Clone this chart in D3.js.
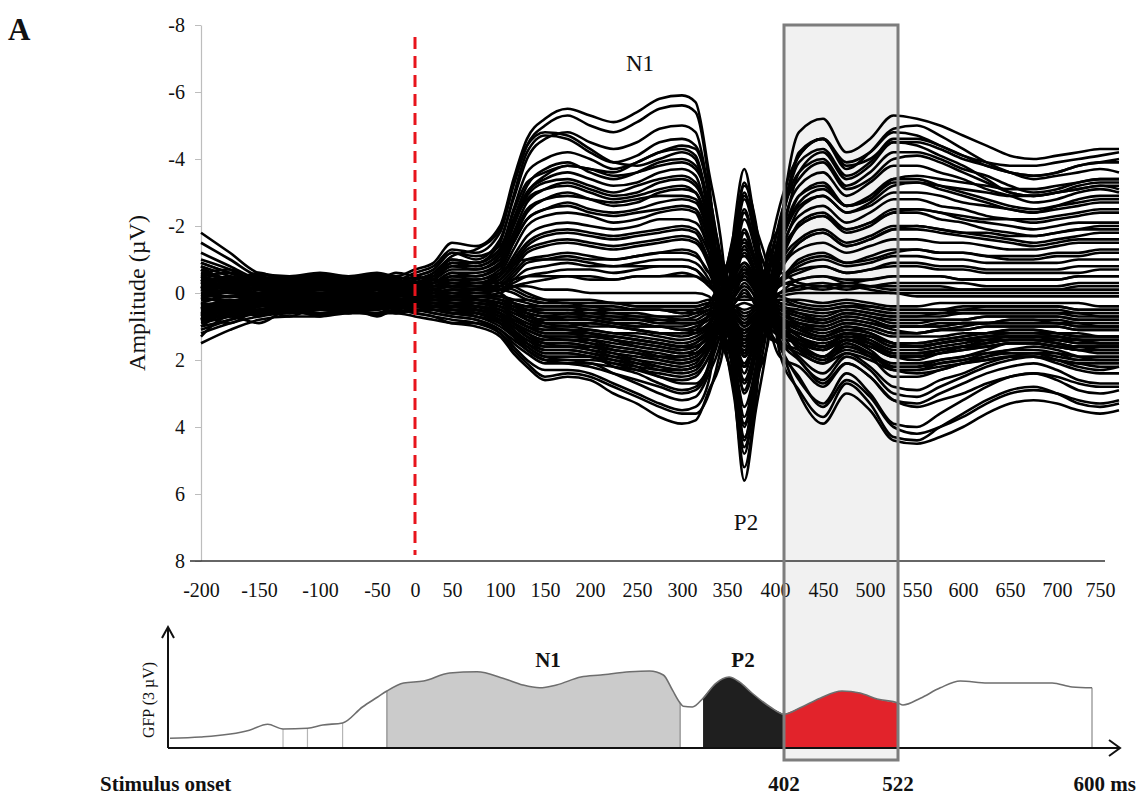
<!DOCTYPE html>
<html>
<head>
<meta charset="utf-8">
<script src="https://cdn.jsdelivr.net/npm/d3@7"></script>
<style>
  body { margin: 0; background: #fff; }
  svg { display: block; }
  text { font-family: "Liberation Serif", "Times New Roman", serif; fill: #111; }
</style>
</head>
<body>
<svg id="chart" width="1146" height="799"></svg>
<script>
// ---- sample times (ms) shared by every channel trace ----
const sampleTimes = [-200,-175,-150,-125,-100,-75,-50,-25,0,
  25,50,75,100,115,130,150,175,200,225,250,275,300,315,330,
  345,358,368,380,392,405,
  425,450,475,500,525,550,575,600,625,650,675,700,725,750,770];

// channels with a negative N1 (upper traces), amplitude in µV
const negativeN1Channels = [
  [-1.8,-1.2,-0.6,-0.5,-0.6,-0.5,-0.6,-0.5,-0.7, -0.9,-1.5,-1.4,-2.0,-3.4,-4.6,-5.2,-5.5,-5.3,-5.1,-5.4,-5.8,-5.9,-5.7,-3.6, -1.2,3.0,5.6,3.5,1.5,-1.8, -4.8,-5.2,-4.2,-4.6,-5.3,-5.2,-5.0,-4.7,-4.4,-4.1,-4.0,-4.1,-4.2,-4.3,-4.3],
  [-1.5,-1.0,-0.5,-0.4,-0.5,-0.4,-0.5,-0.4,-0.6, -0.8,-1.3,-1.2,-1.8,-3.2,-4.4,-5.0,-5.3,-5.0,-4.8,-5.1,-5.5,-5.6,-5.4,-3.3, 0.9,3.2,5.2,3.2,-0.5,-2.1, -4.1,-4.6,-3.7,-4.2,-4.9,-5.0,-4.7,-4.3,-3.9,-3.6,-3.4,-3.5,-3.6,-3.7,-3.6],
  [-1.2,-0.8,-0.4,-0.3,-0.4,-0.3,-0.4,-0.3,-0.5, -0.7,-1.2,-1.0,-1.6,-2.8,-4.0,-4.6,-4.8,-4.5,-4.3,-4.5,-4.9,-5.0,-4.8,-3.0, -0.5,2.9,4.8,2.9,1.0,-1.8, -3.6,-4.0,-3.2,-3.6,-4.2,-4.2,-4.0,-3.7,-3.5,-3.2,-3.0,-3.1,-3.3,-3.4,-3.4],
  [-1.0,-0.7,-0.3,-0.3,-0.4,-0.3,-0.3,-0.3,-0.4, -0.6,-1.0,-0.9,-1.5,-2.9,-4.2,-4.7,-4.6,-4.2,-3.9,-4.1,-4.5,-4.6,-4.4,-2.8, 1.4,2.6,4.3,2.6,-1.2,-2.0, -4.2,-4.6,-3.8,-4.0,-4.5,-4.4,-4.1,-3.8,-3.4,-3.0,-2.9,-3.0,-3.2,-3.3,-3.3],
  [-0.9,-0.6,-0.4,-0.2,-0.3,-0.3,-0.4,-0.2,-0.4, -0.5,-0.9,-0.9,-1.3,-2.5,-3.6,-4.0,-4.2,-4.0,-3.7,-3.9,-4.2,-4.3,-4.1,-2.6, -0.8,2.4,4.0,2.4,0.8,-1.6, -3.2,-3.6,-2.9,-3.3,-3.8,-3.8,-3.6,-3.4,-3.1,-2.9,-2.7,-2.8,-3.0,-3.1,-3.0],
  [-0.8,-0.5,-0.2,-0.2,-0.3,-0.2,-0.3,-0.2,-0.3, -0.5,-0.8,-0.8,-1.2,-2.2,-3.2,-3.7,-3.9,-3.6,-3.4,-3.6,-3.9,-4.0,-3.8,-2.4, 1.0,2.2,3.7,2.2,-0.4,-1.4, -2.9,-3.3,-2.6,-2.9,-3.4,-3.4,-3.2,-3.0,-2.8,-2.6,-2.5,-2.6,-2.7,-2.8,-2.8],
  [-0.7,-0.4,-0.3,-0.1,-0.2,-0.2,-0.2,-0.2,-0.3, -0.4,-0.7,-0.7,-1.0,-2.0,-3.0,-3.4,-3.6,-3.4,-3.2,-3.3,-3.6,-3.7,-3.5,-2.1, 0.0,2.4,4.4,2.6,1.6,-1.0, -2.0,-2.3,-1.8,-2.0,-2.4,-2.4,-2.2,-2.1,-1.9,-1.8,-1.7,-1.8,-1.9,-2.0,-2.0],
  [-0.6,-0.4,-0.2,-0.2,-0.2,-0.1,-0.2,-0.1,-0.2, -0.3,-0.6,-0.6,-0.9,-1.8,-2.7,-3.1,-3.3,-3.1,-2.9,-3.0,-3.3,-3.4,-3.2,-2.0, 1.6,1.8,3.0,1.8,-1.0,-1.6, -3.6,-4.2,-3.4,-3.8,-4.5,-4.5,-4.3,-4.0,-3.8,-3.6,-3.5,-3.6,-3.8,-3.9,-3.9],
  [-0.5,-0.3,-0.1,-0.1,-0.2,-0.1,-0.1,-0.1,-0.2, -0.3,-0.5,-0.5,-0.8,-1.6,-2.4,-2.8,-3.0,-2.8,-2.6,-2.7,-3.0,-3.1,-3.0,-1.8, -0.6,1.8,2.9,1.8,0.6,-1.1, -2.3,-2.6,-2.1,-2.4,-2.8,-2.8,-2.6,-2.5,-2.3,-2.2,-2.1,-2.2,-2.3,-2.4,-2.4],
  [-0.4,-0.2,-0.1,0.0,-0.1,-0.1,-0.1,0.0,-0.1, -0.2,-0.4,-0.4,-0.7,-1.5,-2.2,-2.5,-2.7,-2.5,-2.4,-2.5,-2.7,-2.8,-2.7,-1.6, 0.8,1.0,1.8,1.0,-0.8,-1.0, -2.1,-2.4,-1.9,-2.1,-2.5,-2.5,-2.4,-2.2,-2.1,-2.0,-1.9,-2.0,-2.1,-2.1,-2.1],
  [-0.3,-0.2,0.0,0.0,-0.1,0.0,-0.1,0.0,-0.1, -0.2,-0.3,-0.3,-0.6,-1.3,-2.0,-2.3,-2.4,-2.3,-2.1,-2.2,-2.4,-2.5,-2.4,-1.4, -1.0,1.3,2.4,1.4,1.2,-0.8, -1.6,-1.9,-1.5,-1.7,-2.0,-2.0,-1.9,-1.8,-1.7,-1.6,-1.5,-1.6,-1.7,-1.8,-1.8],
  [-0.2,-0.1,0.1,0.0,0.0,0.0,0.0,0.0,-0.1, -0.1,-0.2,-0.2,-0.5,-1.1,-1.7,-2.0,-2.1,-2.0,-1.9,-2.0,-2.2,-2.2,-2.1,-1.2, 1.2,1.1,1.9,1.1,-0.6,-1.2, -2.5,-2.9,-2.4,-2.7,-3.2,-3.3,-3.2,-3.1,-3.0,-2.9,-2.9,-3.0,-3.1,-3.2,-3.2],
  [-0.1,0.0,0.1,0.1,0.0,0.1,0.0,0.1,0.0, -0.1,-0.2,-0.2,-0.4,-0.9,-1.4,-1.7,-1.8,-1.7,-1.6,-1.7,-1.8,-1.9,-1.8,-1.0, -0.3,1.1,1.8,1.1,0.9,-0.6, -1.3,-1.5,-1.2,-1.4,-1.6,-1.6,-1.5,-1.5,-1.4,-1.3,-1.3,-1.4,-1.5,-1.5,-1.5],
  [0.0,0.0,0.2,0.1,0.1,0.1,0.1,0.1,0.0, 0.0,-0.1,-0.1,-0.3,-0.7,-1.2,-1.4,-1.5,-1.4,-1.3,-1.4,-1.5,-1.6,-1.5,-0.8, 0.7,1.0,1.6,1.0,-0.3,-0.4, -1.0,-1.2,-0.9,-1.1,-1.3,-1.3,-1.2,-1.2,-1.1,-1.0,-1.0,-1.1,-1.1,-1.2,-1.2],
  [0.1,0.1,0.2,0.2,0.1,0.2,0.1,0.2,0.1, 0.0,-0.1,0.0,-0.2,-0.6,-1.0,-1.1,-1.2,-1.1,-1.0,-1.1,-1.2,-1.3,-1.2,-0.6, -0.5,0.9,1.4,0.9,0.4,-0.7, -1.5,-1.8,-1.4,-1.6,-1.9,-2.0,-1.9,-1.8,-1.8,-1.7,-1.7,-1.8,-1.9,-1.9,-1.9],
  [0.2,0.2,0.3,0.2,0.2,0.2,0.2,0.2,0.1, 0.1,0.0,0.0,-0.1,-0.4,-0.7,-0.8,-0.9,-0.8,-0.8,-0.9,-1.0,-1.0,-0.9,-0.4, 0.5,0.8,1.2,0.8,0.6,-0.3, -0.7,-0.8,-0.6,-0.7,-0.9,-0.9,-0.8,-0.8,-0.7,-0.7,-0.7,-0.7,-0.8,-0.8,-0.8],
  [-0.3,-0.5,-0.2,-0.4,-0.1,-0.4,-0.2,-0.5,-0.3, -0.6,-1.1,-1.3,-1.9,-3.3,-4.4,-4.8,-4.7,-4.3,-3.9,-3.8,-4.0,-4.2,-4.0,-2.2, 0.8,2.5,3.9,2.4,0.2,-1.9, -3.9,-4.3,-3.5,-3.9,-4.6,-4.6,-4.4,-4.1,-3.8,-3.6,-3.5,-3.6,-3.8,-3.9,-4.0],
  [-0.8,-0.4,-0.6,-0.3,-0.5,-0.2,-0.5,-0.3,-0.5, -0.7,-1.2,-1.1,-1.4,-2.2,-3.0,-3.5,-3.8,-3.7,-3.6,-3.9,-4.2,-4.4,-4.3,-3.0, -0.4,2.0,3.4,2.2,0.2,-1.4, -2.9,-3.2,-2.6,-2.8,-3.3,-3.3,-3.1,-2.9,-2.7,-2.5,-2.4,-2.6,-2.8,-2.9,-2.9],
  [-0.6,-0.7,-0.3,-0.4,-0.2,-0.3,-0.1,-0.4,-0.3, -0.5,-1.0,-0.9,-1.3,-2.4,-3.3,-3.6,-3.8,-3.7,-3.5,-3.6,-3.8,-3.9,-3.7,-2.5, 1.2,2.9,4.6,2.9,-0.2,-2.2, -3.4,-3.9,-3.1,-3.4,-4.0,-4.1,-3.9,-3.6,-3.3,-3.0,-2.9,-3.0,-3.1,-3.2,-3.1],
  [-0.4,-0.2,-0.4,-0.1,-0.3,0.0,-0.2,-0.1,-0.2, -0.4,-0.8,-0.7,-1.1,-2.0,-2.9,-3.3,-3.4,-3.2,-3.0,-3.2,-3.4,-3.5,-3.3,-2.2, -0.3,1.6,2.6,1.5,-0.5,-1.5, -2.6,-2.9,-2.4,-2.6,-3.0,-3.0,-2.9,-2.7,-2.6,-2.5,-2.4,-2.5,-2.6,-2.7,-2.7],
  [-0.3,-0.4,-0.1,-0.2,-0.1,-0.2,0.0,-0.2,-0.2, -0.4,-0.9,-0.8,-1.2,-2.1,-2.8,-3.1,-3.2,-3.0,-2.8,-2.9,-3.1,-3.2,-3.0,-1.9, 0.9,1.5,2.2,1.2,-0.9,-2.6, -4.1,-4.6,-3.9,-4.2,-4.8,-4.7,-4.4,-4.1,-3.9,-3.8,-3.8,-3.9,-4.0,-4.1,-4.2],
  [-0.2,0.0,-0.2,0.1,-0.1,0.1,-0.1,0.1,-0.1, -0.3,-0.6,-0.5,-0.9,-1.7,-2.5,-2.8,-2.9,-2.8,-2.7,-2.8,-2.9,-2.9,-2.8,-1.9, -0.6,1.3,2.1,1.3,0.5,-0.6, -1.5,-1.8,-1.4,-1.6,-1.9,-1.9,-1.8,-1.7,-1.6,-1.5,-1.4,-1.5,-1.6,-1.6,-1.6],
  [-0.5,-0.3,-0.3,-0.1,-0.2,-0.1,-0.2,0.0,-0.2, -0.2,-0.5,-0.5,-0.8,-1.5,-2.2,-2.5,-2.6,-2.4,-2.3,-2.4,-2.5,-2.6,-2.5,-1.5, 0.4,1.5,2.7,1.6,0.3,-1.3, -2.7,-3.1,-2.6,-2.8,-3.4,-3.5,-3.4,-3.3,-3.2,-3.1,-3.1,-3.2,-3.3,-3.4,-3.4],
  [0.1,-0.1,0.1,0.0,0.1,-0.1,0.1,0.0,0.0, -0.1,-0.3,-0.3,-0.5,-1.0,-1.5,-1.8,-1.9,-1.8,-1.7,-1.8,-1.9,-2.0,-1.9,-1.2, -0.2,0.8,1.4,0.8,0.4,-0.3, -0.8,-1.0,-0.8,-0.9,-1.1,-1.1,-1.0,-1.0,-0.9,-0.9,-0.9,-0.9,-1.0,-1.0,-1.0],
  [-0.3,-0.2,0.0,-0.1,0.0,-0.1,0.0,-0.1,0.0, -0.1,-0.2,-0.2,-0.4,-0.8,-1.3,-1.5,-1.6,-1.5,-1.4,-1.5,-1.6,-1.7,-1.6,-0.9, 0.6,1.4,2.2,1.3,-0.2,-1.0, -2.0,-2.3,-1.9,-2.1,-2.4,-2.5,-2.4,-2.3,-2.2,-2.2,-2.2,-2.3,-2.4,-2.5,-2.5],
  [0.3,0.1,0.2,0.1,0.2,0.1,0.2,0.1,0.1, 0.0,-0.1,-0.1,-0.2,-0.5,-0.9,-1.0,-1.1,-1.0,-1.0,-1.1,-1.2,-1.2,-1.1,-0.6, 0.3,0.6,1.0,0.6,0.3,0.0, -0.4,-0.5,-0.3,-0.4,-0.5,-0.5,-0.5,-0.4,-0.4,-0.4,-0.4,-0.4,-0.5,-0.5,-0.5],
  [-0.1,0.1,0.0,0.1,0.0,0.1,0.0,0.1,0.0, 0.0,-0.1,0.0,-0.1,-0.3,-0.5,-0.6,-0.7,-0.7,-0.6,-0.7,-0.8,-0.8,-0.7,-0.3, 0.3,0.7,1.0,0.7,0.1,-0.4, -0.9,-1.1,-0.9,-1.0,-1.2,-1.3,-1.2,-1.2,-1.1,-1.1,-1.1,-1.2,-1.2,-1.3,-1.3],
  [0.4,0.3,0.2,0.2,0.1,0.2,0.1,0.2,0.2, 0.1,0.1,0.1,0.0,-0.2,-0.3,-0.4,-0.5,-0.4,-0.4,-0.5,-0.5,-0.5,-0.5,-0.2, 0.2,0.5,0.8,0.5,0.2,0.0, -0.2,-0.3,-0.2,-0.2,-0.3,-0.3,-0.3,-0.3,-0.2,-0.2,-0.2,-0.2,-0.3,-0.3,-0.3]
];

// channels with a positive N1 (lower traces)
const positiveN1Channels = [
  [1.5,1.1,0.8,0.7,0.7,0.6,0.6,0.6,0.7, 0.8,0.9,1.0,1.3,1.8,2.2,2.6,2.5,2.6,3.0,3.3,3.7,3.9,3.8,2.9, 1.8,-2.1,-3.7,-2.0,-0.8,1.8, 2.9,3.7,2.7,3.3,4.3,4.4,4.0,3.6,3.2,2.9,2.8,3.0,3.3,3.4,3.3],
  [1.2,0.9,0.7,0.6,0.6,0.5,0.6,0.5,0.6, 0.7,0.8,0.9,1.2,1.6,2.0,2.3,2.3,2.4,2.7,3.0,3.3,3.5,3.4,2.6, -0.2,-1.8,-3.3,-1.8,0.9,1.6, 2.6,3.3,2.4,3.0,3.9,4.0,3.6,3.2,2.8,2.5,2.4,2.6,2.9,3.0,2.9],
  [1.0,0.8,0.6,0.5,0.5,0.5,0.5,0.4,0.5, 0.6,0.7,0.8,1.1,1.5,1.8,2.1,2.1,2.1,2.4,2.7,3.0,3.2,3.1,2.4, 1.2,-1.6,-3.0,-1.6,-0.5,1.5, 2.5,3.4,2.6,3.1,4.0,4.2,4.0,3.7,3.3,3.0,2.9,3.0,3.2,3.3,3.2],
  [0.9,0.7,0.5,0.5,0.4,0.4,0.4,0.4,0.5, 0.5,0.6,0.7,1.0,1.3,1.6,1.9,1.9,1.9,2.2,2.4,2.7,2.9,2.8,2.1, 0.0,-1.5,-2.8,-1.5,1.1,1.2, 2.0,2.6,1.9,2.3,3.0,3.1,2.8,2.5,2.2,2.0,1.9,2.1,2.3,2.4,2.4],
  [0.8,0.6,0.5,0.4,0.4,0.4,0.4,0.3,0.4, 0.4,0.5,0.6,0.9,1.2,1.4,1.7,1.7,1.8,2.0,2.2,2.5,2.6,2.5,1.9, 1.0,-1.3,-2.5,-1.3,-0.2,1.2, 1.9,2.4,1.8,2.2,2.8,2.9,2.6,2.4,2.1,1.9,1.8,2.0,2.2,2.3,2.2],
  [0.7,0.5,0.4,0.4,0.3,0.3,0.3,0.3,0.4, 0.4,0.5,0.5,0.8,1.0,1.3,1.5,1.5,1.6,1.8,2.0,2.2,2.3,2.2,1.7, -0.3,-1.1,-2.2,-1.2,0.7,1.0, 1.7,2.1,1.6,1.9,2.5,2.5,2.3,2.1,1.9,1.7,1.7,1.8,2.0,2.0,2.0],
  [0.6,0.5,0.4,0.3,0.3,0.3,0.3,0.3,0.3, 0.3,0.4,0.5,0.7,0.9,1.1,1.3,1.3,1.4,1.6,1.7,1.9,2.0,1.9,1.5, 0.8,-0.9,-1.9,-1.0,-0.4,0.9, 1.5,1.9,1.4,1.7,2.2,2.2,2.0,1.9,1.7,1.5,1.5,1.6,1.7,1.8,1.8],
  [0.5,0.4,0.3,0.3,0.3,0.2,0.3,0.2,0.3, 0.3,0.3,0.4,0.6,0.8,1.0,1.1,1.1,1.2,1.4,1.5,1.6,1.7,1.6,1.3, 0.2,-0.7,-1.6,-0.8,0.5,0.8, 1.3,1.6,1.2,1.5,1.9,1.9,1.7,1.6,1.4,1.3,1.3,1.4,1.5,1.5,1.5],
  [1.3,0.7,0.9,0.5,0.7,0.4,0.7,0.5,0.6, 0.7,0.9,0.9,1.2,1.7,2.1,2.5,2.4,2.5,2.8,3.1,3.4,3.6,3.6,3.0, 1.4,-1.0,-2.4,-1.4,-0.6,1.4, 3.0,3.9,3.0,3.5,4.4,4.5,4.3,4.0,3.6,3.3,3.2,3.3,3.5,3.6,3.5],
  [0.6,0.9,0.5,0.7,0.4,0.6,0.4,0.6,0.5, 0.6,0.7,0.8,1.1,1.4,1.7,2.0,2.1,2.2,2.4,2.6,2.8,3.0,2.9,2.2, -0.1,-1.9,-3.2,-2.1,0.6,1.9, 2.2,2.8,2.1,2.5,3.2,3.3,3.0,2.7,2.4,2.2,2.1,2.3,2.6,2.7,2.7],
  [1.0,0.6,0.6,0.3,0.5,0.3,0.5,0.3,0.4, 0.5,0.6,0.7,0.9,1.2,1.5,1.8,1.8,1.9,2.1,2.3,2.5,2.7,2.7,2.2, 1.0,-0.6,-1.8,-0.9,-0.3,0.9, 1.6,2.0,1.5,1.8,2.3,2.3,2.1,2.0,1.8,1.7,1.6,1.7,1.9,2.0,2.0],
  [0.4,0.6,0.3,0.5,0.3,0.4,0.3,0.4,0.3, 0.4,0.5,0.6,0.8,1.1,1.4,1.6,1.6,1.7,1.9,2.1,2.3,2.4,2.3,1.6, -0.2,-1.6,-2.9,-1.8,0.4,1.4, 2.0,2.7,2.1,2.5,3.2,3.4,3.2,3.0,2.7,2.5,2.4,2.5,2.7,2.8,2.8],
  [0.8,0.5,0.5,0.3,0.4,0.2,0.4,0.2,0.3, 0.3,0.4,0.5,0.7,0.9,1.2,1.4,1.4,1.5,1.7,1.8,2.0,2.1,2.0,1.6, 0.7,-0.5,-1.4,-0.6,0.3,0.8, 1.3,1.6,1.2,1.4,1.8,1.8,1.7,1.6,1.5,1.4,1.4,1.5,1.6,1.6,1.6],
  [0.3,0.4,0.2,0.4,0.2,0.3,0.2,0.3,0.2, 0.3,0.3,0.4,0.6,0.8,1.0,1.2,1.2,1.3,1.4,1.6,1.7,1.8,1.8,1.4, 0.9,0.1,-0.6,-0.2,0.6,1.0, 1.5,1.9,1.5,1.8,2.3,2.4,2.3,2.1,2.0,1.9,1.9,2.0,2.1,2.2,2.2]
];

// low-amplitude channels forming the dense central band
const centralChannels = [
  [0.45,0.35,0.25,0.15,0.15,0.15,0.15,0.15,0.25, 0.2,0.3,0.3,0.5,0.7,0.9,1.0,1.0,1.1,1.2,1.3,1.4,1.5,1.4,1.1, 0.4,-0.3,-0.8,-0.3,0.2,0.7, 1.1,1.3,1.0,1.2,1.5,1.5,1.4,1.3,1.2,1.1,1.1,1.2,1.3,1.3,1.3],
  [0.35,0.25,0.15,0.05,0.05,0.05,0.05,0.05,0.15, 0.1,0.2,0.2,0.4,0.6,0.8,0.9,0.9,1.0,1.0,1.1,1.2,1.3,1.2,0.9, 0.3,-0.2,-0.6,-0.2,0.2,0.6, 0.9,1.1,0.9,1.0,1.2,1.2,1.1,1.1,1.0,1.0,1.0,1.0,1.1,1.1,1.1],
  [-0.3,-0.2,0.0,0.0,0.0,0.0,-0.1,0.0,0.0, 0.1,0.1,0.2,0.3,0.5,0.7,0.8,0.7,0.8,0.9,1.0,1.0,1.1,1.0,0.8, 0.4,0.2,0.1,0.2,0.3,0.6, 0.9,1.0,0.8,0.9,1.1,1.2,1.1,1.0,0.9,0.9,0.9,0.9,1.0,1.0,1.0],
  [0.65,0.45,0.35,0.25,0.25,0.25,0.25,0.25,0.25, 0.3,0.3,0.4,0.6,0.9,1.2,1.4,1.4,1.5,1.6,1.7,1.8,1.9,1.8,1.4, 0.6,0.3,0.0,0.3,0.6,1.0, 1.4,1.7,1.4,1.6,1.9,1.9,1.8,1.6,1.5,1.4,1.4,1.5,1.6,1.6,1.6],
  [-0.15,-0.05,-0.15,-0.05,-0.15,-0.05,-0.15,-0.05,-0.05, 0.1,0.2,0.2,0.3,0.4,0.5,0.5,0.5,0.6,0.6,0.7,0.7,0.8,0.7,0.5, 0.3,0.6,0.9,0.6,0.3,0.4, 0.5,0.6,0.5,0.6,0.7,0.7,0.6,0.6,0.6,0.6,0.6,0.6,0.7,0.7,0.7],
  [-0.6,-0.4,-0.2,-0.1,-0.2,-0.1,-0.2,-0.1,-0.2, -0.2,-0.3,-0.3,-0.3,-0.4,-0.5,-0.5,-0.5,-0.5,-0.4,-0.5,-0.5,-0.6,-0.5,-0.3, -0.4,0.9,1.5,0.9,0.2,-0.2, -0.4,-0.5,-0.4,-0.4,-0.5,-0.5,-0.5,-0.4,-0.4,-0.4,-0.4,-0.4,-0.5,-0.5,-0.5],
  [0.85,0.65,0.55,0.45,0.45,0.45,0.45,0.45,0.35, 0.4,0.4,0.5,0.7,1.1,1.5,1.8,1.8,1.9,2.0,2.1,2.2,2.3,2.2,1.7, 0.7,0.0,-0.5,0.0,0.6,1.1, 1.5,1.7,1.4,1.6,1.9,1.9,1.8,1.7,1.6,1.5,1.5,1.6,1.7,1.7,1.7],
  [-0.25,-0.15,-0.25,-0.15,-0.25,-0.15,-0.25,-0.15,-0.15, 0.2,0.2,0.3,0.4,0.6,0.7,0.8,0.8,0.8,0.9,0.9,1.0,1.0,0.9,0.7, 0.4,0.4,0.5,0.4,0.4,0.6, 0.8,0.9,0.7,0.8,1.0,1.0,0.9,0.9,0.9,0.8,0.8,0.8,0.9,0.9,0.9],
  [-0.9,-0.6,-0.3,-0.2,-0.3,-0.2,-0.2,-0.2,-0.3, -0.3,-0.5,-0.4,-0.6,-0.9,-1.0,-1.0,-1.0,-0.9,-0.8,-0.8,-0.8,-0.8,-0.7,-0.3, -0.9,0.6,0.9,0.6,0.2,-0.3, -0.6,-0.8,-0.6,-0.7,-0.8,-0.8,-0.7,-0.7,-0.6,-0.6,-0.6,-0.6,-0.6,-0.7,-0.7],
  [1.1,0.8,0.5,0.4,0.4,0.4,0.4,0.4,0.4, 0.5,0.6,0.6,0.9,1.3,1.7,2.0,2.0,2.1,2.2,2.3,2.4,2.5,2.4,1.9, 0.8,-0.4,-1.2,-0.5,0.4,1.0, 1.4,1.6,1.3,1.5,1.8,1.8,1.7,1.6,1.5,1.4,1.4,1.5,1.6,1.6,1.6],
  [-0.35,-0.25,-0.35,-0.25,-0.35,-0.25,-0.35,-0.25,-0.25, 0.0,0.1,0.1,0.2,0.3,0.4,0.4,0.4,0.5,0.5,0.5,0.5,0.6,0.5,0.4, 0.2,0.2,0.2,0.2,0.2,0.3, 0.4,0.5,0.4,0.4,0.5,0.5,0.5,0.5,0.4,0.4,0.4,0.4,0.5,0.5,0.5],
  [0.55,0.45,0.35,0.35,0.35,0.35,0.35,0.35,0.35, 0.2,0.3,0.4,0.5,0.8,1.0,1.2,1.2,1.3,1.3,1.4,1.5,1.6,1.5,1.2, 0.7,0.9,1.2,0.8,0.5,0.9, 1.2,1.4,1.2,1.3,1.6,1.6,1.5,1.4,1.3,1.3,1.3,1.3,1.4,1.4,1.4],
  [-0.4,-0.3,-0.1,-0.1,-0.1,-0.1,-0.1,-0.1,-0.1, -0.1,-0.2,-0.1,-0.1,-0.2,-0.2,-0.1,-0.1,0.0,0.0,0.0,0.0,0.0,0.0,0.1, 0.8,0.5,0.7,0.5,0.2,0.1, 0.0,0.0,0.0,0.0,0.0,0.1,0.1,0.1,0.1,0.1,0.1,0.1,0.1,0.1,0.1],
  [0.8,0.6,0.4,0.3,0.3,0.3,0.3,0.3,0.3, 0.3,0.4,0.5,0.7,1.0,1.3,1.6,1.6,1.7,1.8,1.9,2.0,2.1,2.0,1.6, 0.7,0.1,-0.2,0.1,0.5,0.9, 1.2,1.4,1.2,1.3,1.6,1.6,1.5,1.4,1.3,1.2,1.2,1.3,1.4,1.4,1.4],
  [-0.45,-0.35,-0.45,-0.35,-0.45,-0.35,-0.45,-0.35,-0.35, 0.2,0.2,0.3,0.4,0.5,0.6,0.7,0.7,0.7,0.8,0.8,0.9,0.9,0.9,0.7, 0.5,0.7,1.0,0.7,0.4,0.7, 1.0,1.2,1.0,1.1,1.3,1.3,1.3,1.2,1.2,1.1,1.1,1.2,1.2,1.3,1.3],
  [-0.2,-0.1,0.0,0.0,0.0,0.0,0.0,0.0,0.0, 0.0,0.0,0.1,0.1,0.2,0.2,0.3,0.3,0.3,0.3,0.4,0.4,0.4,0.4,0.3, 0.4,0.9,1.3,0.9,0.3,0.0, -0.1,-0.2,-0.1,-0.2,-0.2,-0.2,-0.2,-0.1,-0.1,-0.1,-0.1,-0.1,-0.2,-0.2,-0.2],
  [0.75,0.55,0.65,0.55,0.65,0.55,0.65,0.55,0.55, 0.3,0.4,0.4,0.6,0.9,1.1,1.3,1.3,1.3,1.4,1.5,1.6,1.7,1.6,1.3, 0.5,-0.1,-0.5,-0.1,0.4,0.8, 1.1,1.3,1.1,1.2,1.5,1.5,1.4,1.3,1.2,1.2,1.2,1.2,1.3,1.3,1.3],
  [0.05,-0.05,0.05,-0.05,0.05,-0.05,0.05,-0.05,0.05, 0.1,0.2,0.2,0.3,0.5,0.6,0.7,0.6,0.7,0.8,0.8,0.9,0.9,0.9,0.7, 0.5,0.4,0.3,0.4,0.4,0.5, 0.7,0.8,0.6,0.7,0.8,0.8,0.8,0.8,0.7,0.7,0.7,0.7,0.8,0.8,0.8],
  [-0.5,-0.6,-0.4,-0.5,-0.3,-0.5,-0.4,-0.6,-0.5, -0.4,-0.3,-0.2,0.0,0.3,0.6,0.9,1.0,0.9,1.0,1.1,1.2,1.2,1.1,0.6, -0.6,-1.2,-1.5,-0.9,-0.2,0.3, 0.6,0.8,0.6,0.7,0.9,0.9,0.8,0.8,0.7,0.7,0.7,0.7,0.8,0.8,0.8],
  [0.7,0.5,0.6,0.4,0.6,0.5,0.6,0.4,0.5, 0.5,0.6,0.7,0.9,1.2,1.5,1.7,1.7,1.8,1.9,2.0,2.1,2.2,2.1,1.5, 1.0,1.4,1.9,1.2,0.8,1.1, 1.6,1.9,1.6,1.8,2.1,2.1,2.0,1.9,1.8,1.8,1.8,1.8,1.9,1.9,1.9],
  [0.2,-0.1,0.3,-0.2,0.2,-0.1,0.3,-0.1,0.1, 0.1,0.0,0.1,0.2,0.4,0.6,0.7,0.8,0.8,0.9,1.0,1.0,1.1,1.1,0.9, 0.2,-0.5,-0.9,-0.4,0.6,0.8, 0.9,1.0,0.8,0.9,1.0,1.0,1.0,0.9,0.9,0.9,0.9,0.9,1.0,1.0,1.0],
  [-0.2,0.3,-0.1,0.3,0.0,0.3,-0.1,0.3,0.0, 0.1,0.2,0.2,0.3,0.5,0.8,1.0,1.1,1.2,1.3,1.4,1.5,1.6,1.6,1.3, 1.2,1.5,1.7,1.1,0.2,0.4, 1.0,1.3,1.1,1.2,1.5,1.6,1.5,1.4,1.3,1.3,1.3,1.3,1.4,1.5,1.5],
  [0.5,0.2,0.4,0.1,0.3,0.1,0.3,0.0,0.2, 0.2,0.3,0.3,0.4,0.7,1.0,1.2,1.2,1.2,1.3,1.4,1.5,1.6,1.5,1.0, 0.0,-0.8,-1.3,-0.6,0.9,1.3, 1.5,1.7,1.4,1.6,1.9,2.0,1.8,1.7,1.6,1.5,1.5,1.6,1.7,1.7,1.7],
  [-0.7,-0.4,-0.5,-0.2,-0.4,-0.2,-0.4,-0.2,-0.3, -0.3,-0.4,-0.3,-0.3,-0.2,0.0,0.2,0.3,0.3,0.3,0.4,0.4,0.4,0.4,0.3, 0.5,1.0,1.4,0.9,-0.5,-0.6, -0.3,-0.2,-0.3,-0.2,-0.1,-0.1,-0.1,-0.1,-0.1,-0.1,-0.1,-0.1,-0.1,-0.1,-0.1],
  [0.4,0.6,0.3,0.6,0.3,0.5,0.3,0.5,0.3, 0.4,0.4,0.5,0.6,0.9,1.1,1.3,1.4,1.4,1.5,1.6,1.7,1.8,1.7,1.2, 0.5,0.1,-0.3,0.2,1.3,1.5, 1.7,2.0,1.7,1.9,2.2,2.2,2.1,2.0,1.9,1.8,1.8,1.9,2.0,2.0,2.0],
  [-0.55,-0.45,-0.55,-0.45,-0.55,-0.45,-0.55,-0.45,-0.45, 0.1,0.1,0.2,0.3,0.4,0.5,0.6,0.6,0.6,0.7,0.7,0.8,0.8,0.8,0.6, 0.6,0.9,1.1,0.8,0.0,0.1, 0.3,0.4,0.3,0.4,0.5,0.5,0.5,0.4,0.4,0.4,0.4,0.4,0.5,0.5,0.5],
  [-0.4,-0.2,-0.3,-0.1,-0.2,0.0,-0.2,0.0,-0.1, -0.1,0.0,0.0,0.1,0.3,0.5,0.6,0.6,0.7,0.7,0.8,0.8,0.9,0.9,0.7, 0.0,-0.4,-0.7,-0.2,0.5,0.5, 0.6,0.7,0.5,0.6,0.7,0.7,0.7,0.6,0.6,0.6,0.6,0.6,0.6,0.7,0.7],
  [0.8,0.4,0.7,0.3,0.5,0.3,0.5,0.3,0.4, 0.4,0.5,0.6,0.8,1.2,1.6,1.9,2.0,2.0,2.1,2.2,2.3,2.3,2.2,1.7, 0.9,0.3,-0.1,0.4,1.2,1.5, 1.8,2.1,1.8,2.0,2.3,2.3,2.2,2.1,2.0,1.9,1.9,2.0,2.1,2.1,2.1],
  [0.1,0.3,0.1,0.2,0.0,0.2,0.0,0.2,0.1, 0.2,0.2,0.2,0.3,0.5,0.7,0.9,0.9,0.9,1.0,1.1,1.2,1.2,1.2,1.0, 0.8,1.2,1.6,1.0,0.1,0.5, 0.7,0.9,0.7,0.8,1.0,1.0,1.0,0.9,0.9,0.8,0.8,0.9,0.9,1.0,1.0],
  [-0.1,-0.3,0.0,-0.3,-0.1,-0.3,-0.1,-0.3,-0.2, -0.2,-0.2,-0.1,-0.1,0.0,0.2,0.3,0.3,0.4,0.4,0.5,0.5,0.5,0.5,0.4, -0.2,-0.6,-0.9,-0.4,0.3,0.2, 0.2,0.3,0.2,0.3,0.4,0.4,0.3,0.3,0.3,0.3,0.3,0.3,0.3,0.4,0.4],
  [0.6,0.3,0.5,0.2,0.4,0.2,0.4,0.2,0.3, 0.3,0.4,0.4,0.6,0.9,1.2,1.5,1.5,1.6,1.7,1.8,1.9,2.0,1.9,1.5, 1.3,1.8,2.2,1.4,0.5,0.9, 1.3,1.5,1.3,1.4,1.7,1.7,1.6,1.5,1.4,1.4,1.4,1.4,1.5,1.5,1.5],
  [-0.3,0.0,-0.2,0.1,-0.1,0.1,-0.1,0.1,-0.1, 0.0,0.1,0.1,0.2,0.3,0.4,0.5,0.5,0.5,0.6,0.6,0.7,0.7,0.6,0.3, -0.4,-0.9,-1.1,-0.5,0.7,0.9, 1.0,1.1,0.9,1.0,1.2,1.2,1.1,1.1,1.0,1.0,1.0,1.0,1.1,1.1,1.1],
  [0.3,0.5,0.2,0.5,0.2,0.4,0.2,0.4,0.2, 0.3,0.3,0.4,0.5,0.7,0.9,1.1,1.1,1.1,1.2,1.2,1.3,1.4,1.3,1.0, 0.2,-0.2,-0.4,0.0,0.9,1.1, 1.2,1.4,1.2,1.3,1.5,1.6,1.5,1.4,1.4,1.3,1.3,1.4,1.4,1.5,1.5],
  [-0.5,-0.3,-0.4,-0.2,-0.3,-0.2,-0.3,-0.1,-0.2, -0.2,-0.3,-0.2,-0.2,-0.1,0.1,0.2,0.2,0.2,0.3,0.3,0.3,0.3,0.3,0.2, 0.2,0.4,0.6,0.4,-0.2,-0.3, -0.2,-0.1,-0.2,-0.1,0.0,0.0,0.0,0.0,0.0,0.0,0.0,0.0,0.0,0.0,0.0],
  [0.6,0.7,0.5,0.6,0.5,0.6,0.4,0.6,0.4, 0.5,0.5,0.6,0.8,1.0,1.3,1.5,1.6,1.6,1.7,1.8,1.9,1.9,1.8,1.4, 0.4,-0.3,-0.7,-0.1,0.8,1.2, 1.4,1.6,1.4,1.5,1.8,1.8,1.7,1.6,1.6,1.5,1.5,1.6,1.6,1.7,1.7],
  [0.0,-0.2,0.1,-0.2,0.1,-0.2,0.1,-0.1,0.0, 0.0,0.0,0.1,0.1,0.2,0.3,0.4,0.4,0.4,0.5,0.5,0.5,0.6,0.6,0.5, 0.9,1.3,1.8,1.1,0.3,0.2, 0.4,0.5,0.4,0.5,0.6,0.6,0.6,0.5,0.5,0.5,0.5,0.5,0.6,0.6,0.6]
];

// axis tick labels
const amplitudeTicks = [-8,-6,-4,-2,0,2,4,6,8];
const timeTicks = [-200,-150,-100,-50,0,50,100,150,200,250,300,350,400,450,500,550,600,650,700,750];

// global field power (µV) over the post-stimulus window
const gfpTimes  = [0,20,52,64,74,90,100,113,126,136,142,153,166,183,201,218,231,242,253,269,282,301,314,323,329,334,336,342,349,357,366,373,381,393,402,419,440,463,482,500,522,524,531,539,547,558,571,584,592,600];
const gfpValues = [0.22,0.25,0.42,0.57,0.45,0.47,0.55,0.6,1.0,1.25,1.4,1.6,1.65,1.85,1.88,1.72,1.55,1.48,1.55,1.75,1.8,1.88,1.9,1.8,1.42,1.1,1.02,1.0,1.22,1.58,1.75,1.62,1.35,1.0,0.82,0.98,1.22,1.4,1.35,1.2,1.1,1.05,1.22,1.48,1.65,1.6,1.6,1.6,1.5,1.48];

// microstate segment borders (ms) and the highlighted segments
const segmentBorders = [74, 90, 113, 142, 334, 600];
const segmentFills = [
  { from: 142, to: 334, name: "N1" },
  { from: 349, to: 402, name: "P2" },
  { from: 402, to: 522, name: "window" }
];
const windowLabels = [402, 522];

// ---------------------------------------------------------------
const svg = d3.select("#chart");
const serif = "Liberation Serif, Times New Roman, serif";
const fillColor = { N1: "#cbcbcb", P2: "#1f1f1f", window: "#e2232b" };

// butterfly plot scales (time labels in this figure are unevenly spaced)
const xMain = d3.scaleLinear()
  .domain([-200,-150,-100,-50,0,50,100,150,200,250,300,350,400,450,500,550,600,650,700,750,770])
  .range([201,259,320,377,415,452,500,545,590,637,682,727,775,823,870,917,963,1010,1057,1100,1119]);
const yMain = d3.scaleLinear().domain([-8, 8]).range([25, 561]);

// GFP panel scales
const xGfp = d3.scaleLinear().domain([0, 402, 522, 600]).range([170, 784, 898, 1092]);
const yGfp = d3.scaleLinear().domain([0, 3]).range([747, 627]);

// highlighted analysis window spanning both panels
const winX0 = xGfp(windowLabels[0]), winX1 = xGfp(windowLabels[1]);
svg.append("rect")
  .attr("x", winX0).attr("y", 25)
  .attr("width", winX1 - winX0).attr("height", 735)
  .attr("fill", "#f1f1f1");

// panel letter
svg.append("text").attr("x", 8).attr("y", 40)
  .attr("font-size", 31).attr("font-weight", "bold").text("A");

// y axis
const yAxis = svg.append("g")
  .attr("transform", `translate(${xMain(-200)},0)`)
  .call(d3.axisLeft(yMain).tickValues(amplitudeTicks).tickFormat(d => String(d))
    .tickSize(6).tickSizeOuter(0).tickPadding(10));
yAxis.attr("font-family", serif);
yAxis.select(".domain").attr("stroke", "#bdbdbd").attr("stroke-width", 1.2);
yAxis.selectAll(".tick line").attr("stroke", "#bdbdbd");
yAxis.selectAll(".tick text").attr("font-size", 20).attr("fill", "#111");

svg.append("text")
  .attr("transform", `translate(145,${yMain(0)}) rotate(-90)`)
  .attr("text-anchor", "middle").attr("font-size", 24)
  .text("Amplitude (\u00b5V)");

// x axis labels (no tick marks), line drawn separately
const xAxis = svg.append("g")
  .attr("transform", `translate(0,${yMain(8)})`)
  .call(d3.axisBottom(xMain).tickValues(timeTicks).tickFormat(d => String(d))
    .tickSize(0).tickPadding(22));
xAxis.attr("font-family", serif);
xAxis.select(".domain").remove();
xAxis.selectAll(".tick text").attr("font-size", 20).attr("fill", "#111");
svg.append("line")
  .attr("x1", 190).attr("x2", 1105)
  .attr("y1", yMain(8)).attr("y2", yMain(8))
  .attr("stroke", "#333").attr("stroke-width", 1.6);

// channel traces
const trace = d3.line()
  .x((d, i) => xMain(sampleTimes[i]))
  .y(d => yMain(d))
  .curve(d3.curveMonotoneX);
const allChannels = centralChannels.concat(positiveN1Channels, negativeN1Channels);
svg.append("g")
  .selectAll("path")
  .data(allChannels)
  .join("path")
  .attr("d", trace)
  .attr("fill", "none")
  .attr("stroke", "#000")
  .attr("stroke-width", 2.6)
  .attr("stroke-linejoin", "round");

// stimulus onset marker
svg.append("line")
  .attr("x1", xMain(0)).attr("x2", xMain(0))
  .attr("y1", 37).attr("y2", 555)
  .attr("stroke", "#e8141c").attr("stroke-width", 3)
  .attr("stroke-dasharray", "12,7");

// component labels
svg.append("text").attr("x", 640).attr("y", 71).attr("text-anchor", "middle")
  .attr("font-size", 23).text("N1");
svg.append("text").attr("x", 746).attr("y", 530).attr("text-anchor", "middle")
  .attr("font-size", 23).text("P2");

// ---------------- GFP panel ----------------
const gfp = gfpTimes.map((t, i) => ({ t, v: gfpValues[i] }));
const gfpArea = d3.area()
  .x(d => xGfp(d.t)).y0(yGfp(0)).y1(d => yGfp(d.v))
  .curve(d3.curveMonotoneX);

svg.append("g").selectAll("path")
  .data(segmentFills)
  .join("path")
  .attr("d", s => gfpArea(gfp.filter(d => d.t >= s.from && d.t <= s.to)))
  .attr("fill", s => fillColor[s.name]);

// segment borders
const gfpAt = t => gfp.find(d => d.t === t).v;
svg.append("g").selectAll("line")
  .data(segmentBorders)
  .join("line")
  .attr("x1", d => xGfp(d)).attr("x2", d => xGfp(d))
  .attr("y1", yGfp(0)).attr("y2", d => yGfp(gfpAt(d)))
  .attr("stroke", d => (d === 142 || d === 334 || d === 600) ? "#8a8a8a" : "#b5b5b5")
  .attr("stroke-width", 1.2);

// GFP curve
svg.append("path")
  .attr("d", d3.line().x(d => xGfp(d.t)).y(d => yGfp(d.v)).curve(d3.curveMonotoneX)(gfp))
  .attr("fill", "none").attr("stroke", "#6e6e6e").attr("stroke-width", 1.6);

// GFP axes with arrowheads
svg.append("line").attr("x1", 168).attr("x2", 168).attr("y1", yGfp(0) + 1).attr("y2", 627)
  .attr("stroke", "#111").attr("stroke-width", 2);
svg.append("path").attr("d", "M162,638 L168,627 L174,638")
  .attr("fill", "none").attr("stroke", "#111").attr("stroke-width", 2);
svg.append("line").attr("x1", 168).attr("x2", 1120).attr("y1", yGfp(0) + 1).attr("y2", yGfp(0) + 1)
  .attr("stroke", "#111").attr("stroke-width", 2);
svg.append("path").attr("d", `M1109,${yGfp(0) - 7} L1120,${yGfp(0) + 1} L1109,${yGfp(0) + 9}`)
  .attr("fill", "none").attr("stroke", "#111").attr("stroke-width", 2);

svg.append("text")
  .attr("transform", "translate(154,700) rotate(-90)")
  .attr("text-anchor", "middle").attr("font-size", 16)
  .text("GFP (3 \u00b5V)");

svg.append("text").attr("x", 548).attr("y", 667).attr("text-anchor", "middle")
  .attr("font-size", 21).attr("font-weight", "bold").text("N1");
svg.append("text").attr("x", 743).attr("y", 667).attr("text-anchor", "middle")
  .attr("font-size", 21).attr("font-weight", "bold").text("P2");

svg.append("text").attr("x", 100).attr("y", 791)
  .attr("font-size", 21).attr("font-weight", "bold").text("Stimulus onset");
svg.append("g").selectAll("text")
  .data(windowLabels)
  .join("text")
  .attr("x", d => xGfp(d)).attr("y", 791).attr("text-anchor", "middle")
  .attr("font-size", 21).attr("font-weight", "bold").text(d => String(d));
svg.append("text").attr("x", 1136).attr("y", 791).attr("text-anchor", "end")
  .attr("font-size", 21).attr("font-weight", "bold").text("600 ms");

// analysis window outline on top of both panels
svg.append("rect")
  .attr("x", winX0).attr("y", 25)
  .attr("width", winX1 - winX0).attr("height", 735)
  .attr("fill", "none").attr("stroke", "#7d7d7d").attr("stroke-width", 3);
</script>
</body>
</html>
